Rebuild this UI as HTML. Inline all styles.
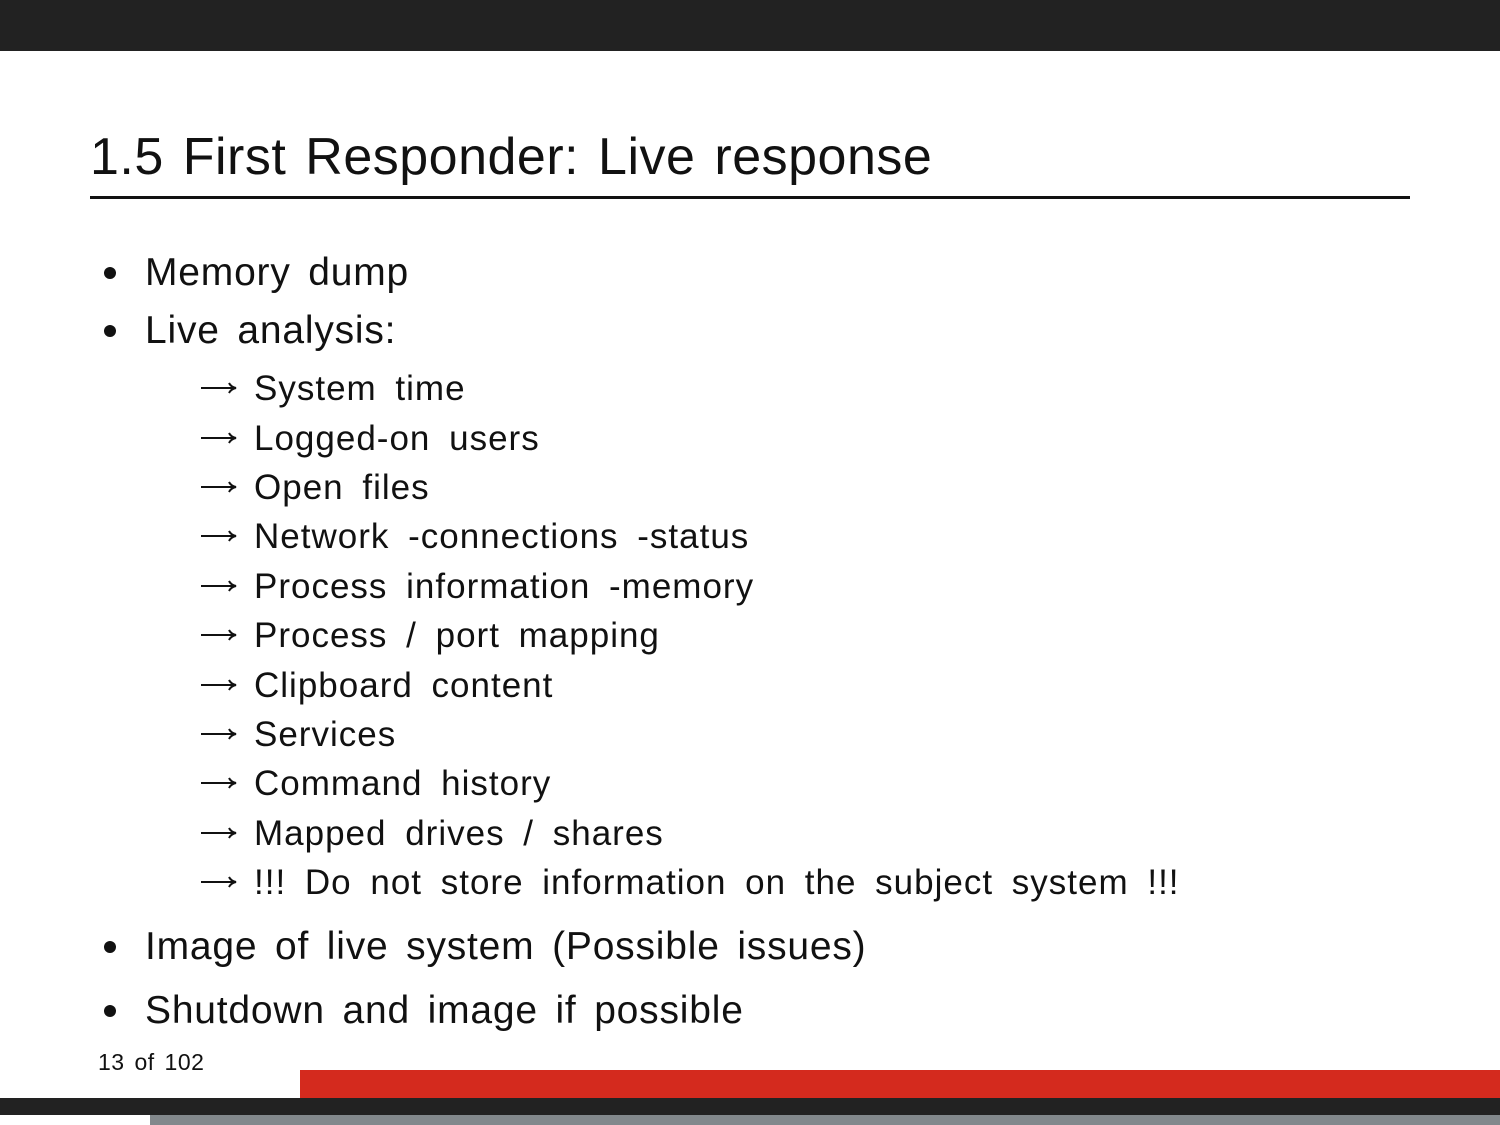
<!DOCTYPE html>
<html><head><meta charset="utf-8"><style>
body{margin:0;width:1500px;height:1125px;position:relative;background:#fff;font-family:"Liberation Sans",sans-serif;color:#111;overflow:hidden}
.a{position:absolute;white-space:nowrap}
.t{font-size:52px;left:90px;top:127px;letter-spacing:0.5px;word-spacing:4px}
.b{font-size:39px;left:145px;letter-spacing:0.8px;word-spacing:6px}
.d{position:absolute;width:12px;height:12px;border-radius:50%;background:#111;left:104px}
.s{font-size:35px;left:254px;letter-spacing:1px;word-spacing:8px}
.r{position:absolute;left:200px;width:38px;height:14px}
</style></head><body>
<div style="position:absolute;left:0;top:0;width:1500px;height:51px;background:#222"></div>
<div class="a t">1.5 First Responder: Live response</div>
<div style="position:absolute;left:90px;top:196px;width:1320px;height:3px;background:#111"></div>

<div class="d" style="top:267px"></div><div class="a b" style="top:251px">Memory dump</div>
<div class="d" style="top:325px"></div><div class="a b" style="top:309px">Live analysis:</div>

<svg width="0" height="0" style="position:absolute"><defs><g id="ar"><path d="M1 7 H36 M29 2 Q31 6 36 7 Q31 8 29 12" stroke="#111" stroke-width="2" fill="none"/></g></defs></svg>
<svg class="r" style="top:381px"><use href="#ar"/></svg><div class="a s" style="top:369px">System time</div>
<svg class="r" style="top:431px"><use href="#ar"/></svg><div class="a s" style="top:419px">Logged-on users</div>
<svg class="r" style="top:480px"><use href="#ar"/></svg><div class="a s" style="top:468px">Open files</div>
<svg class="r" style="top:529px"><use href="#ar"/></svg><div class="a s" style="top:517px">Network -connections -status</div>
<svg class="r" style="top:579px"><use href="#ar"/></svg><div class="a s" style="top:567px">Process information -memory</div>
<svg class="r" style="top:628px"><use href="#ar"/></svg><div class="a s" style="top:616px">Process / port mapping</div>
<svg class="r" style="top:678px"><use href="#ar"/></svg><div class="a s" style="top:666px">Clipboard content</div>
<svg class="r" style="top:727px"><use href="#ar"/></svg><div class="a s" style="top:715px">Services</div>
<svg class="r" style="top:776px"><use href="#ar"/></svg><div class="a s" style="top:764px">Command history</div>
<svg class="r" style="top:826px"><use href="#ar"/></svg><div class="a s" style="top:814px">Mapped drives / shares</div>
<svg class="r" style="top:875px"><use href="#ar"/></svg><div class="a s" style="top:863px">!!! Do not store information on the subject system !!!</div>

<div class="d" style="top:941px"></div><div class="a b" style="top:925px">Image of live system (Possible issues)</div>
<div class="d" style="top:1005px"></div><div class="a b" style="top:989px">Shutdown and image if possible</div>

<div class="a" style="font-size:23px;left:98px;top:1049px;letter-spacing:0.5px;word-spacing:3px">13 of 102</div>
<div style="position:absolute;left:300px;top:1070px;width:1200px;height:28px;background:#d42a1e"></div>
<div style="position:absolute;left:0;top:1098px;width:1500px;height:17px;background:#222"></div>
<div style="position:absolute;left:150px;top:1115px;width:1350px;height:10px;background:#82888c"></div>
</body></html>
